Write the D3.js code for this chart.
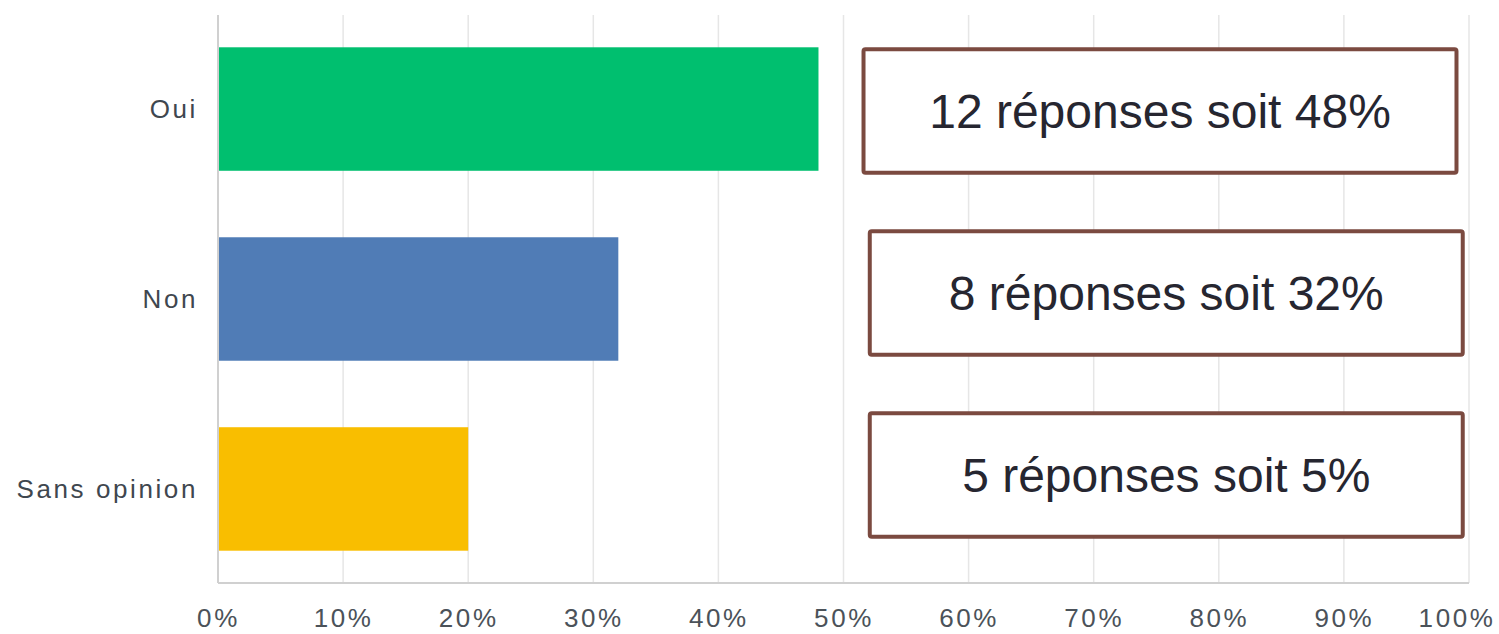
<!DOCTYPE html>
<html>
<head>
<meta charset="utf-8">
<script src="https://cdn.jsdelivr.net/npm/d3@7"></script>
<style>
  body { margin: 0; background: #fff; }
  .tick-label, .cat-label { font-family: "Liberation Sans", Arial, sans-serif; letter-spacing: 2.6px; }
</style>
</head>
<body>
<div id="chart"></div>
<script>
// data
var categories = ["Oui", "Non", "Sans opinion"];
var percents = [48, 32, 20];
var barColors = ["#00bf6f", "#507cb6", "#f9be00"];
var notes = ["12 réponses soit 48%", "8 réponses soit 32%", "5 réponses soit 5%"];
var tickValues = [0, 10, 20, 30, 40, 50, 60, 70, 80, 90, 100];

// dimensions
var width = 1499;
var height = 634;
var margin = {top: 15, right: 30, bottom: 51, left: 218};
var innerW = width - margin.left - margin.right;
var innerH = height - margin.top - margin.bottom;

var svg = d3.select('#chart')
  .append('svg')
  .attr('width', width)
  .attr('height', height)
  .append('g')
  .attr('transform', 'translate(' + margin.left + ',' + margin.top + ')');

var x = d3.scaleLinear().domain([0, 100]).range([0, innerW]);
var y = d3.scaleBand().domain(categories).range([0, innerH]).paddingInner(0.35).paddingOuter(0.17);

// gridlines
svg.selectAll('.grid')
  .data(tickValues.slice(1))
  .enter()
  .append('line')
  .attr('x1', function(d) { return x(d); })
  .attr('x2', function(d) { return x(d); })
  .attr('y1', 0)
  .attr('y2', innerH)
  .attr('stroke', '#e6e6e6')
  .attr('stroke-width', 1.5);

// bars
svg.selectAll('.bar')
  .data(percents)
  .enter()
  .append('rect')
  .attr('x', x(0))
  .attr('y', function(d, i) { return y(categories[i]); })
  .attr('width', function(d) { return x(d) - x(0); })
  .attr('height', y.bandwidth())
  .attr('fill', function(d, i) { return barColors[i]; });

// axes lines
svg.append('line')
  .attr('x1', 0).attr('x2', 0).attr('y1', 0).attr('y2', innerH)
  .attr('stroke', '#d0d0d0').attr('stroke-width', 2);
svg.append('line')
  .attr('x1', 0).attr('x2', innerW).attr('y1', innerH).attr('y2', innerH)
  .attr('stroke', '#d0d0d0').attr('stroke-width', 2);

// x tick labels
var xAxis = d3.axisBottom(x)
  .tickValues(tickValues)
  .tickFormat(function(d) { return d + '%'; })
  .tickSize(0)
  .tickPadding(26);
var gx = svg.append('g')
  .attr('transform', 'translate(0,' + innerH + ')')
  .call(xAxis);
gx.select('.domain').remove();
gx.selectAll('text')
  .attr('class', 'tick-label')
  .attr('font-size', 26)
  .attr('fill', '#4b5259');

// keep the last label inside the picture
gx.selectAll('text').each(function() {
  var bb = this.getBBox();
  var tickX = x(d3.select(this.parentNode).datum());
  var overflow = margin.left + tickX + bb.x + bb.width - (width - 4);
  if (overflow > 0) d3.select(this).attr('x', -overflow);
});

// category labels
svg.selectAll('.cat-label')
  .data(categories)
  .enter()
  .append('text')
  .attr('class', 'cat-label')
  .attr('x', -20)
  .attr('y', function(d) { return y(d) + y.bandwidth() / 2; })
  .attr('dy', '0.35em')
  .attr('text-anchor', 'end')
  .attr('font-size', 26)
  .attr('fill', '#3f474f')
  .text(function(d) { return d; });

// annotation boxes (layout in percent units, shifted from each bar)
var boxLeft = [51.6, 52.1, 52.1];
var boxRight = [99.0, 99.5, 99.5];
var boxShift = [2, -6, -14];
var boxes = svg.selectAll('.note')
  .data(notes)
  .enter()
  .append('g')
  .attr('transform', function(d, i) {
    return 'translate(' + x(boxLeft[i]) + ',' + (y(categories[i]) + boxShift[i]) + ')';
  });
boxes.append('rect')
  .attr('width', function(d, i) { return x(boxRight[i]) - x(boxLeft[i]); })
  .attr('height', y.bandwidth())
  .attr('rx', 2)
  .attr('fill', '#fff')
  .attr('stroke', '#7b4a40')
  .attr('stroke-width', 4);
boxes.append('text')
  .attr('x', function(d, i) { return (x(boxRight[i]) - x(boxLeft[i])) / 2; })
  .attr('y', y.bandwidth() / 2)
  .attr('dy', '0.36em')
  .attr('text-anchor', 'middle')
  .attr('font-family', '"Liberation Sans", Arial, sans-serif')
  .attr('font-size', 48)
  .attr('fill', '#262630')
  .text(function(d) { return d; });
</script>
</body>
</html>
